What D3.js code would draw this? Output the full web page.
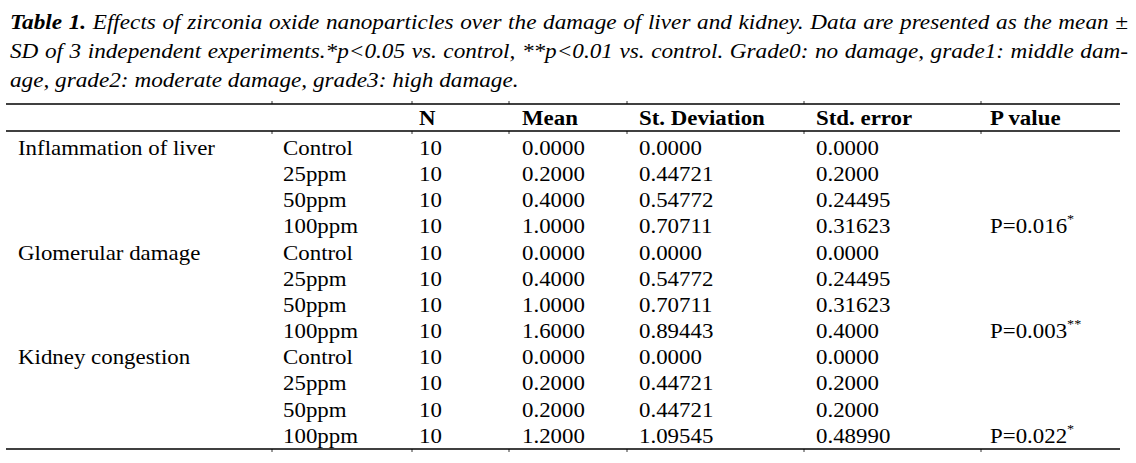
<!DOCTYPE html>
<html><head><meta charset="utf-8">
<script src="https://cdn.jsdelivr.net/npm/d3@7"></script>
<style>
html,body{margin:0;padding:0;background:#fff;}
svg{display:block;}
text{font-family:"Liberation Serif","Times New Roman",serif;fill:#000;}
</style></head>
<body>
<script>
// ---- data ----
const captionLines = [
  "Effects of zirconia oxide nanoparticles over the damage of liver and kidney. Data are presented as the mean \u00b1",
  "SD of 3 independent experiments.*p<0.05 vs. control, **p<0.01 vs. control. Grade0: no damage, grade1: middle dam-",
  "age, grade2: moderate damage, grade3: high damage."
];
const captionLabel = "Table 1.";
const headers = ["", "", "N", "Mean", "St. Deviation", "Std. error", "P value"];
const groups = ["Inflammation of liver", "Glomerular damage", "Kidney congestion"];
const doses = ["Control", "25ppm", "50ppm", "100ppm"];
const nValues = [10,10,10,10, 10,10,10,10, 10,10,10,10];
const means = ["0.0000","0.2000","0.4000","1.0000", "0.0000","0.4000","1.0000","1.6000", "0.0000","0.2000","0.2000","1.2000"];
const stdDevs = ["0.0000","0.44721","0.54772","0.70711", "0.0000","0.54772","0.70711","0.89443", "0.0000","0.44721","0.44721","1.09545"];
const stdErrs = ["0.0000","0.2000","0.24495","0.31623", "0.0000","0.24495","0.31623","0.4000", "0.0000","0.2000","0.2000","0.48990"];
const pValues = ["","","","P=0.016", "","","","P=0.003", "","","","P=0.022"];
const pStars = ["","","","*", "","","","**", "","","","*"];

// ---- layout ----
const W = 1136, H = 463;
const svg = d3.select("body").append("svg").attr("width", W).attr("height", H);
svg.append("rect").attr("width", W).attr("height", H).attr("fill", "#fff");

// caption
const capX0 = 10, capX1 = 1128, capFont = 22, capSX = 1.055;
const capBase = [29, 58, 87];
captionLines.forEach((line, i) => {
  const t = svg.append("text").attr("x", 0).attr("y", 0)
    .attr("transform", `translate(${capX0},${capBase[i]}) scale(${capSX},1)`)
    .attr("font-size", capFont).attr("font-style", "italic");
  if (i === 0) {
    t.append("tspan").attr("font-weight", "bold").text(captionLabel);
    t.append("tspan").text(" " + line);
  } else {
    t.append("tspan").text(line);
  }
  if (i < 2) {
    const full = (i === 0 ? captionLabel + " " : "") + line;
    const spaces = (full.match(/ /g) || []).length;
    const natural = t.node().getComputedTextLength();
    const extra = ((capX1 - capX0) / capSX - natural) / spaces;
    t.attr("word-spacing", extra);
  }
});

// table
const colEdges = [6, 272, 412, 509, 627, 804, 981, 1120];
const colText = [18, 283, 419, 522, 639, 816, 990];
const lineTop = 104, lineHead = 131, lineBot = 449;
const bodyFont = 21, bodySX = 1.09;

const y = d3.scalePoint().domain(d3.range(12)).range([155, 442.7]);

// rules
[lineTop, lineHead, lineBot].forEach(yy => {
  svg.append("line").attr("x1", colEdges[0]).attr("x2", colEdges[colEdges.length-1])
    .attr("y1", yy).attr("y2", yy).attr("stroke", "#000").attr("stroke-width", 1.6);
});
// small column ticks
colEdges.slice(1, -1).forEach(x => {
  svg.append("line").attr("x1", x).attr("x2", x).attr("y1", lineTop - 3).attr("y2", lineTop)
    .attr("stroke", "#000").attr("stroke-width", 0.8);
  svg.append("line").attr("x1", x).attr("x2", x).attr("y1", lineHead).attr("y2", lineHead + 3)
    .attr("stroke", "#000").attr("stroke-width", 0.8);
  svg.append("line").attr("x1", x).attr("x2", x).attr("y1", lineBot).attr("y2", lineBot + 3)
    .attr("stroke", "#000").attr("stroke-width", 0.8);
});

// header
svg.selectAll("text.hdr").data(headers).join("text").attr("class", "hdr")
  .attr("transform", (d, i) => `translate(${colText[i]},124.5) scale(${bodySX},1)`)
  .attr("font-size", bodyFont).attr("font-weight", "bold").text(d => d);

// rows
const rows = d3.range(12).map(i => ({
  i,
  group: i % 4 === 0 ? groups[i / 4] : "",
  dose: doses[i % 4],
  n: nValues[i], mean: means[i], sd: stdDevs[i], se: stdErrs[i],
  p: pValues[i], star: pStars[i]
}));
const rowG = svg.selectAll("g.row").data(rows).join("g").attr("class", "row")
  .attr("transform", d => `translate(0,${y(d.i)})`);
const fields = ["group", "dose", "n", "mean", "sd", "se"];
fields.forEach((f, k) => {
  rowG.append("text").attr("transform", `translate(${colText[k]},0) scale(${bodySX},1)`)
    .attr("font-size", bodyFont).text(d => d[f]);
});
const pt = rowG.filter(d => d.p).append("text")
  .attr("transform", `translate(${colText[6]},0) scale(${bodySX},1)`).attr("font-size", bodyFont);
pt.append("tspan").text(d => d.p);
pt.append("tspan").attr("font-size", 13).attr("dy", -10).text(d => d.star);
</script>
</body></html>
